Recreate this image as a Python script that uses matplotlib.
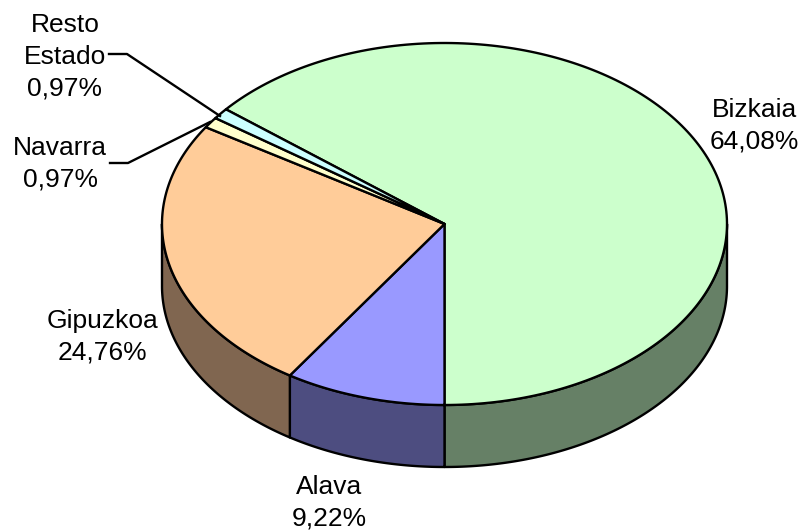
import matplotlib
matplotlib.use("Agg")
import matplotlib.pyplot as plt
import numpy as np

plt.rcParams["font.family"] = ["Liberation Sans", "DejaVu Sans"]

# order: clockwise, starting from Bizkaia
names = ["Bizkaia", "Alava", "Gipuzkoa", "Navarra", "Resto\nEstado"]
shares = [64.08, 9.22, 24.76, 0.97, 0.97]
top_colors = ["#CCFFCC", "#9999FF", "#FFCC99", "#FFFFCC", "#CCFFFF"]
side_colors = ["#668066", "#4D4D80", "#806650", "#808066", "#668080"]

CX, CY = 444.5, 224
RX, RY = 282.5, 181
DEPTH = 62
START = 180 - shares[0] * 3.6  # Bizkaia ends straight below the centre

label_pos = [(754, 126), (329, 503), (102, 337), (60, 164), (65, 57)]
leaders = {
    3: [(110, 163), (128, 163), (210, 122)],
    4: [(109, 54), (127, 54), (220, 116)],
}


def rim(a0, a1, n=200):
    t = np.radians(np.linspace(a0, a1, n))
    return CX + RX * np.sin(t), CY - RY * np.cos(t)


fig = plt.figure(figsize=(8.01, 5.32), dpi=100)
ax = fig.add_axes([0, 0, 1, 1])
ax.set_xlim(0, 801)
ax.set_ylim(532, 0)
ax.axis("off")

edges = np.cumsum([0] + shares) * 3.6 + START

# outer wall, only the part facing the viewer (90..270 deg on the rim)
for i in range(len(shares)):
    a0, a1 = max(edges[i], 90), min(edges[i + 1], 270)
    if a0 >= a1:
        continue
    x, y = rim(a0, a1)
    xs = np.r_[x, x[::-1]]
    ys = np.r_[y, y[::-1] + DEPTH]
    ax.fill(xs, ys, fc=side_colors[i], ec="black", lw=1.7, joinstyle="round")

# top face
for i in range(len(shares)):
    x, y = rim(edges[i], edges[i + 1])
    ax.fill(np.r_[CX, x], np.r_[CY, y], fc=top_colors[i], ec="black", lw=1.7,
            joinstyle="round")

for i, name in enumerate(names):
    ax.text(label_pos[i][0], label_pos[i][1], f"{name}\n{shares[i]:.2f}%".replace(".", ","),
            ha="center", va="center", fontsize=19, linespacing=1.42, color="black")

for pts in leaders.values():
    ax.plot(*zip(*pts), color="black", lw=1.7)

fig.savefig("out.png", dpi=100)
